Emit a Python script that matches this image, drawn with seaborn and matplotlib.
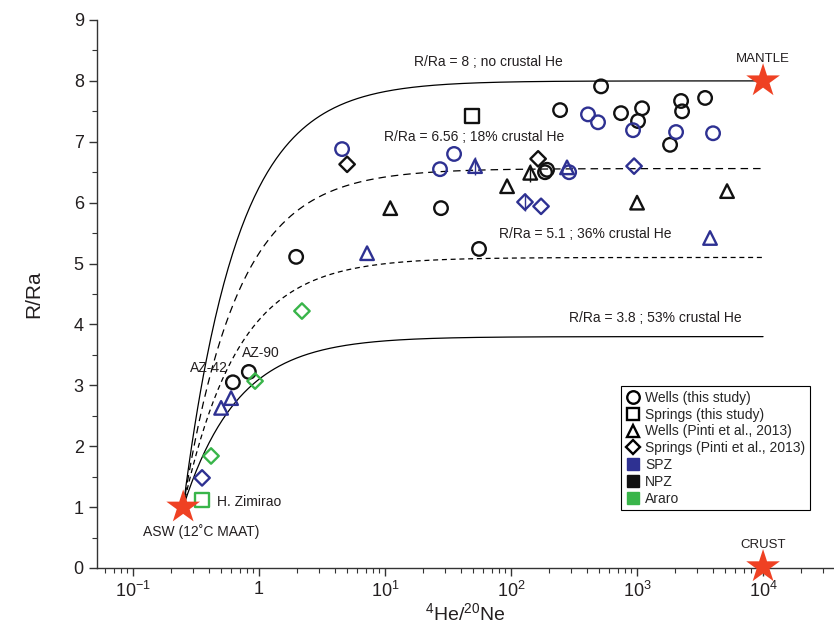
import numpy as np
import pandas as pd
import matplotlib
matplotlib.use("Agg")
import matplotlib.pyplot as plt
import seaborn as sns
from matplotlib.lines import Line2D
from matplotlib.ticker import FixedLocator, LogLocator, MultipleLocator, NullFormatter

# =========================
# DATA
# =========================

# wells, this study
wells_npz_x = [0.62, 0.83, 1.97, 27.8, 55.7, 518, 245, 746, 1096, 1018, 2235, 2277, 3467, 1828, 186, 193]
wells_npz_y = [3.05, 3.22, 5.11, 5.91, 5.24, 7.91, 7.52, 7.47, 7.55, 7.34, 7.67, 7.50, 7.72, 6.95, 6.50, 6.54]
wells_spz_x = [4.56, 35.3, 27.3, 408, 490, 929, 2040, 4010, 289]
wells_spz_y = [6.88, 6.80, 6.55, 7.45, 7.32, 7.19, 7.16, 7.14, 6.50]

# springs, this study
springs_npz_x = [49]
springs_npz_y = [7.42]
springs_araro_x = [0.353]
springs_araro_y = [1.12]

# wells, Pinti et al. 2013
pinti_wells_npz_x = [11, 93, 142, 1000, 5180]
pinti_wells_npz_y = [5.91, 6.27, 6.49, 6.00, 6.19]
pinti_wells_spz_x = [51.8, 7.2, 278, 3795, 0.60, 0.50]
pinti_wells_spz_y = [6.60, 5.17, 6.58, 5.42, 2.79, 2.63]

# springs, Pinti et al. 2013
pinti_springs_npz_x = [5.0, 164]
pinti_springs_npz_y = [6.63, 6.72]
pinti_springs_spz_x = [129, 173, 947, 0.353]
pinti_springs_spz_y = [6.01, 5.94, 6.60, 1.48]
pinti_springs_araro_x = [2.19, 0.416, 0.93]
pinti_springs_araro_y = [4.22, 1.84, 3.07]

# points with small error bars
err_x = [51.8, 142, 129]
err_y = [6.60, 6.49, 6.01]
err_zone = ["SPZ", "NPZ", "SPZ"]
err_size = [0.15, 0.15, 0.15]

# end members
asw_x, asw_r = 0.25, 1.0
end_x = 1e4
end_r = [8.0, 6.56, 5.1, 3.8]
end_style = ["-", (0, (6, 4)), (0, (4, 3)), "-"]
curve_labels = ["R/Ra = 8 ; no crustal He", "R/Ra = 6.56 ; 18% crustal He",
                "R/Ra = 5.1 ; 36% crustal He", "R/Ra = 3.8 ; 53% crustal He"]
curve_label_x = [66, 51, 387, 1390]
curve_label_y = [8.31, 7.08, 5.48, 4.10]

star_x = [0.25, 1e4, 1e4]
star_y = [1.0, 8.0, 0.02]

colors = {"SPZ": "#2e3192", "NPZ": "#111111", "Araro": "#39b54a"}

# =========================
# FIGURE
# =========================

sns.set_theme(style="white")
plt.rcParams["font.family"] = ["Liberation Sans", "DejaVu Sans"]
plt.rcParams["mathtext.default"] = "regular"

fig = plt.figure(figsize=(8.34, 6.29), dpi=100)
ax = fig.add_axes([97 / 834, 61 / 629, 737 / 834, 548 / 629])

# mixing curves ASW -> end member
xx = np.logspace(np.log10(asw_x), np.log10(end_x), 400)
frac = (end_x - xx) / (end_x - asw_x)
for r, ls in zip(end_r, end_style):
    rr = r + (asw_r - r) * asw_x * frac / xx
    sns.lineplot(x=xx, y=rr, ax=ax, color="black", linewidth=0.9, linestyle=ls, zorder=1)

for lab, lx, ly in zip(curve_labels, curve_label_x, curve_label_y):
    ax.text(lx, ly, lab, ha="center", va="center", fontsize=10, color="#231f20")

# error bars
for x, y, z, e in zip(err_x, err_y, err_zone, err_size):
    ax.errorbar(x, y, yerr=e, fmt="none", ecolor=colors[z], elinewidth=1, capsize=0, zorder=2)


def pts(x, y, marker, zone, s):
    sns.scatterplot(x=x, y=y, ax=ax, marker=marker, s=s, facecolors="none",
                    edgecolors=colors[zone], linewidths=1.7, zorder=3)


pts(wells_npz_x, wells_npz_y, "o", "NPZ", 95)
pts(wells_spz_x, wells_spz_y, "o", "SPZ", 95)
pts(springs_npz_x, springs_npz_y, "s", "NPZ", 95)
pts(springs_araro_x, springs_araro_y, "s", "Araro", 95)
pts(pinti_wells_npz_x, pinti_wells_npz_y, "^", "NPZ", 95)
pts(pinti_wells_spz_x, pinti_wells_spz_y, "^", "SPZ", 95)
pts(pinti_springs_npz_x, pinti_springs_npz_y, "D", "NPZ", 62)
pts(pinti_springs_spz_x, pinti_springs_spz_y, "D", "SPZ", 62)
pts(pinti_springs_araro_x, pinti_springs_araro_y, "D", "Araro", 62)

# end member stars
sns.scatterplot(x=star_x, y=star_y, ax=ax, marker="*", s=650, color="#ef4123",
                edgecolor="none", zorder=4, clip_on=False)

ax.text(1e4, 8.36, "MANTLE", ha="center", va="center", fontsize=9.5, color="#231f20")
ax.text(1e4, 0.38, "CRUST", ha="center", va="center", fontsize=9.5, color="#231f20")
ax.text(0.346, 0.60, "ASW (12˚C MAAT)", ha="center", va="center", fontsize=10, color="#231f20")
ax.text(0.46, 1.09, "H. Zimirao", ha="left", va="center", fontsize=10, color="#231f20")
ax.text(0.40, 3.28, "AZ-42", ha="center", va="center", fontsize=10, color="#231f20")
ax.text(1.04, 3.53, "AZ-90", ha="center", va="center", fontsize=10, color="#231f20")

# axes
ax.set_xscale("log")
ax.set_xlim(10 ** -1.286, 10 ** 4.563)
ax.set_ylim(0, 9)
ax.xaxis.set_major_locator(FixedLocator([0.1, 1, 10, 100, 1000, 10000]))
ax.set_xticklabels(["10$^{-1}$", "1", "10$^{1}$", "10$^{2}$", "10$^{3}$", "10$^{4}$"])
ax.xaxis.set_minor_locator(LogLocator(base=10, subs=np.arange(2, 10)))
ax.xaxis.set_minor_formatter(NullFormatter())
ax.yaxis.set_major_locator(MultipleLocator(1))
ax.yaxis.set_minor_locator(MultipleLocator(0.5))

for side in ["top", "right"]:
    ax.spines[side].set_visible(False)
for side in ["left", "bottom"]:
    ax.spines[side].set_color("#333333")
    ax.spines[side].set_linewidth(1.0)

ax.tick_params(which="major", direction="out", length=6, width=1, color="#333333",
               labelsize=13, labelcolor="#231f20", left=True, bottom=True)
ax.tick_params(which="minor", direction="out", length=3.5, width=0.8, color="#333333",
               left=True, bottom=True)

ax.set_xlabel("$^{4}$He/$^{20}$Ne", fontsize=14, color="#231f20", labelpad=1)
ax.set_ylabel("R/Ra", fontsize=15, color="#231f20", labelpad=22)
ax.set_facecolor("white")

# legend
handles = [
    Line2D([], [], marker="o", ls="none", mfc="none", mec="black", mew=1.7, ms=9),
    Line2D([], [], marker="s", ls="none", mfc="none", mec="black", mew=1.7, ms=9),
    Line2D([], [], marker="^", ls="none", mfc="none", mec="black", mew=1.7, ms=9),
    Line2D([], [], marker="D", ls="none", mfc="none", mec="black", mew=1.7, ms=7.5),
    Line2D([], [], marker="s", ls="none", mfc=colors["SPZ"], mec=colors["SPZ"], ms=9),
    Line2D([], [], marker="s", ls="none", mfc=colors["NPZ"], mec=colors["NPZ"], ms=9),
    Line2D([], [], marker="s", ls="none", mfc=colors["Araro"], mec=colors["Araro"], ms=9),
]
labels = ["Wells (this study)", "Springs (this study)", "Wells (Pinti et al., 2013)",
          "Springs (Pinti et al., 2013)", "SPZ", "NPZ", "Araro"]
leg = ax.legend(handles, labels, loc="upper left", bbox_to_anchor=(0.711, 0.332),
                fontsize=10, frameon=True, fancybox=False, framealpha=1,
                edgecolor="black", borderpad=0.35, labelspacing=0.2,
                handlelength=1.0, handletextpad=0.4, borderaxespad=0)
leg.get_frame().set_linewidth(0.8)

fig.savefig("out.png", dpi=100)
